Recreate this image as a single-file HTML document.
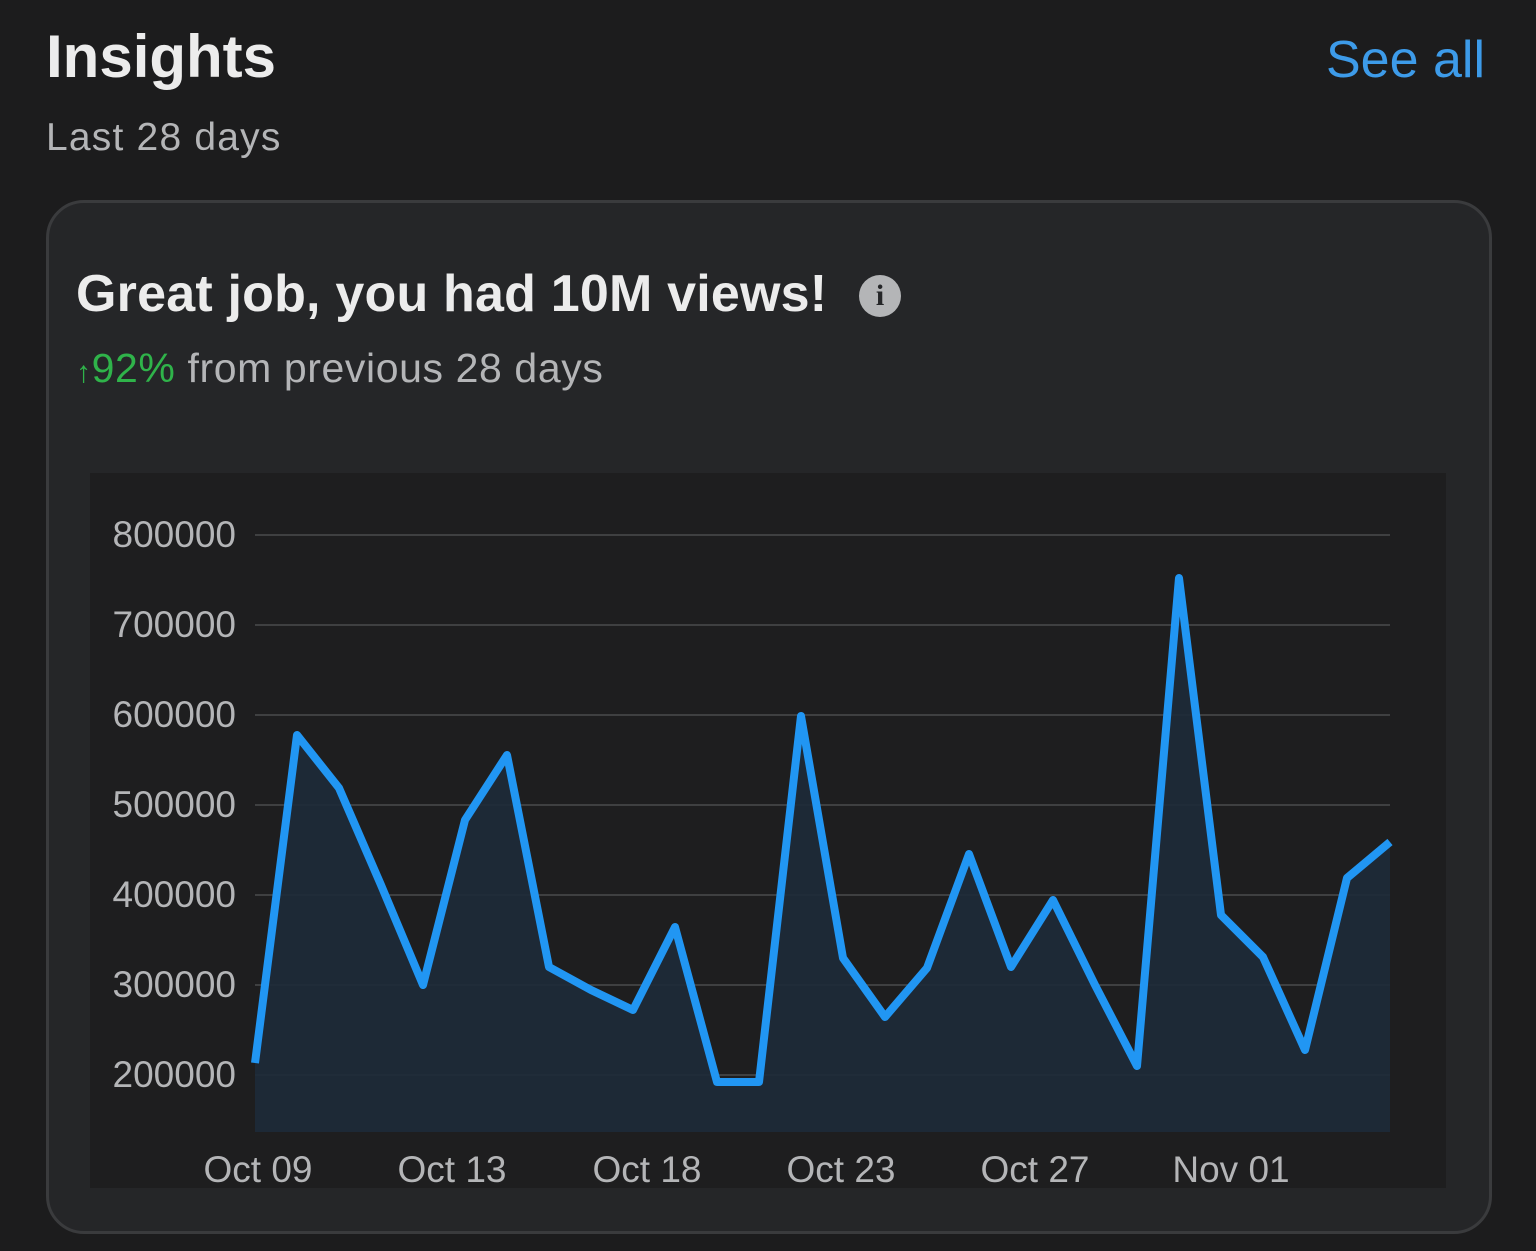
<!DOCTYPE html>
<html><head><meta charset="utf-8"><style>
body{margin:0;width:1536px;height:1251px;background:#1c1c1d;font-family:"Liberation Sans",sans-serif;overflow:hidden;position:relative}
.t{position:absolute;white-space:nowrap}
</style></head><body>
<div class="t" style="left:46px;top:22px;font-size:60px;font-weight:bold;color:#ececec">Insights</div>
<div class="t" style="left:1326px;top:30px;font-size:52px;color:#3d9be9">See all</div>
<div class="t" style="left:46px;top:116px;font-size:39px;letter-spacing:1.2px;color:#b4b5b7">Last 28 days</div>
<div style="position:absolute;left:46px;top:200px;width:1440px;height:1028px;border:3px solid #3a3b3d;border-radius:38px;background:#252628"></div>
<div class="t" style="left:76px;top:264px;font-size:52px;font-weight:bold;color:#ececec;letter-spacing:0.2px">Great job, you had 10M views!</div>
<div style="position:absolute;left:859px;top:275px;width:42px;height:42px;border-radius:50%;background:#b4b5b7;color:#252628;font-weight:bold;font-size:30px;text-align:center;line-height:42px;font-family:'Liberation Serif',serif">i</div>
<div class="t" style="left:76px;top:345px;font-size:41px;letter-spacing:0.6px;color:#b4b5b7"><span style="color:#2fb34a"><span style="font-size:30px">↑</span>92%</span> from previous 28 days</div>
<svg style="position:absolute;left:0;top:0" width="1536" height="1251">
<rect x="90" y="473" width="1356" height="715" fill="#1e1e1f"/>
<g stroke="#4a4b4d" stroke-width="1.5">
<line x1="255" y1="535" x2="1390" y2="535"/><line x1="255" y1="625" x2="1390" y2="625"/><line x1="255" y1="715" x2="1390" y2="715"/><line x1="255" y1="805" x2="1390" y2="805"/><line x1="255" y1="895" x2="1390" y2="895"/><line x1="255" y1="985" x2="1390" y2="985"/><line x1="255" y1="1075" x2="1390" y2="1075"/>
</g>
<g font-size="37" fill="#b4b5b7" text-anchor="end" font-family="Liberation Sans,sans-serif">
<text x="236" y="547">800000</text><text x="236" y="637">700000</text><text x="236" y="727">600000</text><text x="236" y="817">500000</text><text x="236" y="907">400000</text><text x="236" y="997">300000</text><text x="236" y="1087">200000</text>
</g>
<g font-size="37" fill="#b4b5b7" text-anchor="middle" font-family="Liberation Sans,sans-serif">
<text x="258" y="1182">Oct 09</text><text x="452" y="1182">Oct 13</text><text x="647" y="1182">Oct 18</text><text x="841" y="1182">Oct 23</text><text x="1035" y="1182">Oct 27</text><text x="1231" y="1182">Nov 01</text>
</g>
<polygon fill="#1d2a38" fill-opacity="0.9" points="255,1132 255,1063 297,735 339,788 381,885 423,985 465,820 507,755 549,967 591,990 633,1010 675,927 717,1082 759,1082 801,716 843,958 885,1017 927,968 969,854 1011,967 1053,900 1095,985 1137,1066 1179,578 1221,915 1263,957 1305,1050 1347,878 1390,842 1390,1132"/>
<polyline fill="none" stroke="#2196f3" stroke-width="8" stroke-linejoin="round" points="255,1063 297,735 339,788 381,885 423,985 465,820 507,755 549,967 591,990 633,1010 675,927 717,1082 759,1082 801,716 843,958 885,1017 927,968 969,854 1011,967 1053,900 1095,985 1137,1066 1179,578 1221,915 1263,957 1305,1050 1347,878 1390,842"/>
</svg>
</body></html>
